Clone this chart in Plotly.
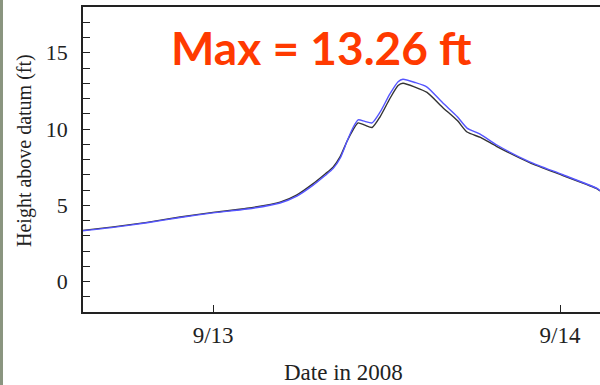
import plotly.graph_objects as go

times = ["2008-09-12 15:00", "2008-09-12 17:06", "2008-09-12 19:26", "2008-09-12 21:43",
         "2008-09-13 00:00", "2008-09-13 02:21", "2008-09-13 04:38", "2008-09-13 05:48",
         "2008-09-13 06:54", "2008-09-13 07:45", "2008-09-13 08:18", "2008-09-13 08:48",
         "2008-09-13 09:16", "2008-09-13 09:41", "2008-09-13 10:02", "2008-09-13 10:30",
         "2008-09-13 11:00", "2008-09-13 11:33", "2008-09-13 12:14", "2008-09-13 12:48",
         "2008-09-13 13:08", "2008-09-13 13:58", "2008-09-13 14:48", "2008-09-13 15:54",
         "2008-09-13 16:54", "2008-09-13 17:34", "2008-09-13 18:30", "2008-09-13 19:38",
         "2008-09-13 21:54", "2008-09-14 00:12", "2008-09-14 02:34", "2008-09-14 02:46"]

modeled = [3.33, 3.55, 3.85, 4.2, 4.5, 4.75, 5.15, 5.6, 6.3, 6.95, 7.4, 8.1,
           9.2, 10.1, 10.6, 10.5, 10.4, 11.1, 12.3, 13.1, 13.26, 13.05, 12.75, 11.7,
           10.8, 10.06, 9.65, 8.95, 7.85, 7.0, 6.1, 5.95]

observed = [3.35, 3.58, 3.88, 4.23, 4.53, 4.8, 5.2, 5.68, 6.4, 7.05, 7.5, 8.2,
            9.2, 9.95, 10.4, 10.25, 10.1, 10.8, 12.0, 12.85, 13.0, 12.75, 12.4, 11.4,
            10.55, 9.8, 9.45, 8.85, 7.8, 6.95, 6.08, 5.93]

y_ticks = [0, 5, 10, 15]
x_ticks = ["2008-09-13", "2008-09-14"]
x_tick_labels = ["9/13", "9/14"]

L, R, T, B = 83, 600, 7, 312
W, H = R - L, B - T


def px(x):
    return (x - L) / W


def py(y):
    return (B - y) / H


fig = go.Figure()
fig.add_trace(go.Scatter(x=times, y=observed, mode="lines", hoverinfo="skip",
                         line=dict(color="#333333", width=1.4, shape="spline", smoothing=0.6)))
fig.add_trace(go.Scatter(x=times, y=modeled, mode="lines", hoverinfo="skip",
                         line=dict(color="#5555ff", width=1.4, shape="spline", smoothing=0.6)))

serif = "Liberation Serif, Times New Roman, serif"
fig.update_layout(
    width=600, height=385,
    margin=dict(l=L, r=600 - R, t=T, b=385 - B),
    paper_bgcolor="white", plot_bgcolor="white",
    showlegend=False,
    font=dict(family=serif, size=20, color="#222222"),
    xaxis=dict(
        range=["2008-09-12 15:00", "2008-09-14 02:46"],
        tickmode="array", tickvals=x_ticks, ticktext=x_tick_labels,
        ticks="inside", ticklen=7, tickwidth=1, tickcolor="#222222",
        showline=True, linecolor="#222222", linewidth=1.5, mirror=True,
        showgrid=False, zeroline=False, automargin=False,
        tickfont=dict(family=serif, size=23),
        ticklabelstandoff=2,
    ),
    yaxis=dict(
        range=[-2, 18],
        tickmode="array", tickvals=y_ticks,
        ticks="inside", ticklen=7, tickwidth=1, tickcolor="#222222",
        minor=dict(ticks="inside", ticklen=7, dtick=1, tickcolor="#222222", tickwidth=1, showgrid=False),
        showline=True, linecolor="#222222", linewidth=1.5,
        showgrid=False, zeroline=False, automargin=False,
        tickfont=dict(family=serif, size=22),
        ticklabelstandoff=9,
    ),
)

fig.add_annotation(text="Date in 2008", xref="paper", yref="paper",
                   x=px(343), y=py(372), xanchor="center", yanchor="middle",
                   showarrow=False, font=dict(family=serif, size=23, color="#222222"))
fig.add_annotation(text="Height above datum (ft)", xref="paper", yref="paper",
                   x=px(24), y=py(151), xanchor="center", yanchor="middle", textangle=-90,
                   showarrow=False, font=dict(family=serif, size=20, color="#222222"))

fig.add_annotation(text="<b>Max = 13.26 ft</b>", xref="paper", yref="paper",
                   x=px(321), y=py(47), xanchor="center", yanchor="middle",
                   showarrow=False, font=dict(family="Lato, Open Sans, sans-serif", size=46, color="#ff3a00"))

fig.add_shape(type="rect", xref="paper", yref="paper",
              x0=px(0), x1=px(3), y0=py(385), y1=py(0),
              fillcolor="#8a9580", line=dict(width=0), layer="above")

fig.write_html("out.html", config={"displayModeBar": False},
               post_script="document.body.style.margin='0';document.body.style.padding='0';")
